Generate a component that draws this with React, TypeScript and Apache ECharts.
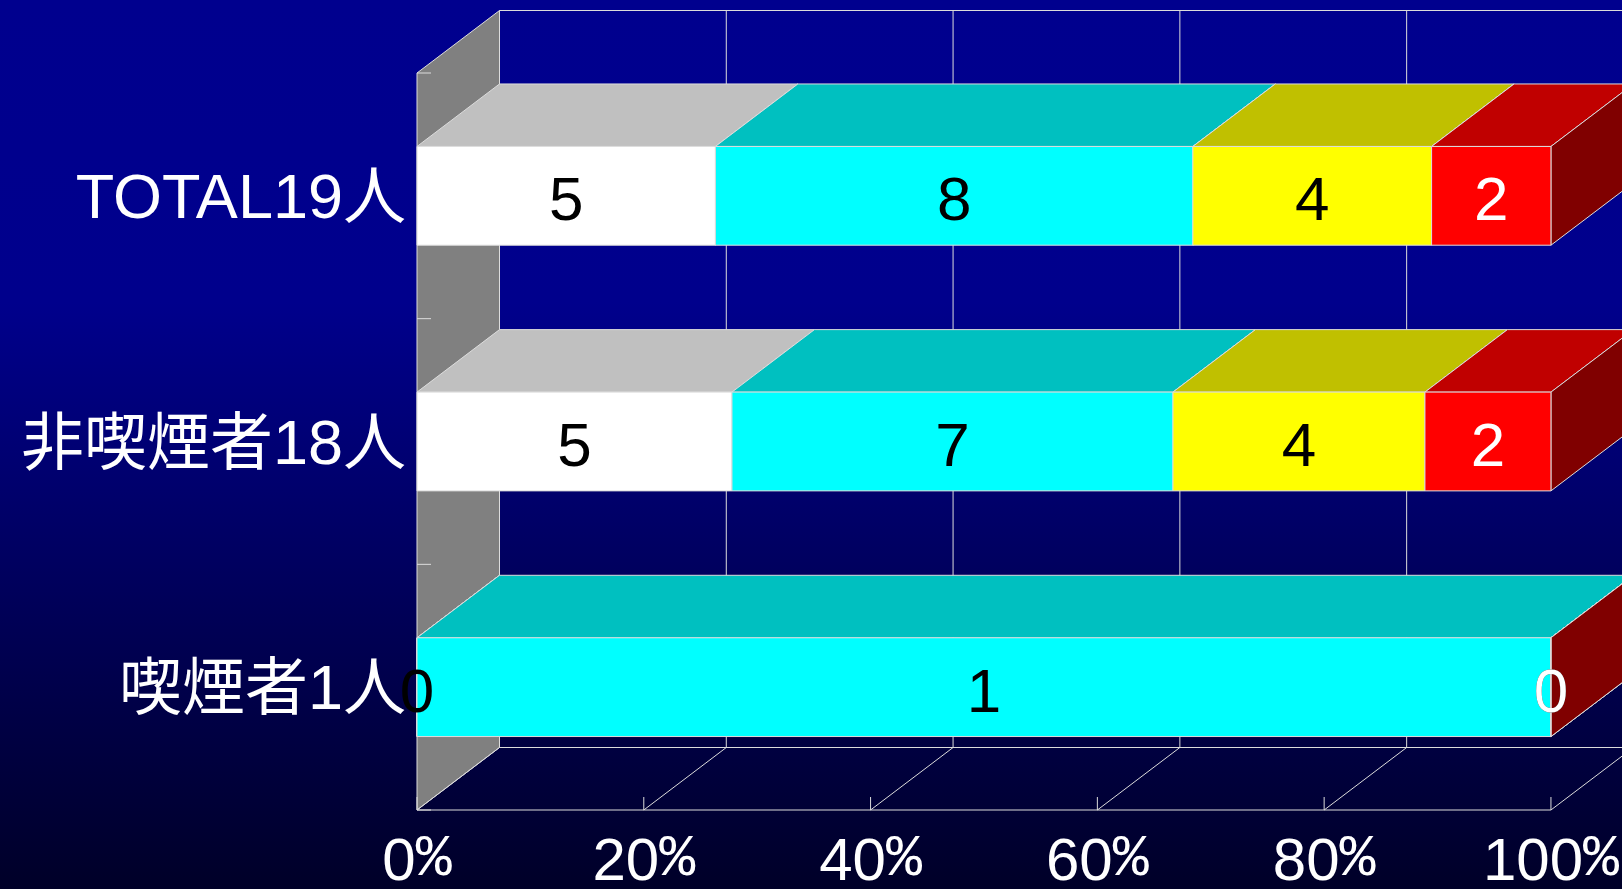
import React, { useEffect, useRef } from 'react';
import * as echarts from 'echarts';

// Rows, top to bottom
const categories = ['TOTAL19人', '非喫煙者18人', '喫煙者1人'];

// Head counts per answer group, one entry per row
const segmentNames = ['white', 'cyan', 'yellow', 'red'];
const whiteCounts = [5, 5, 0];
const cyanCounts = [8, 7, 1];
const yellowCounts = [4, 4, 0];
const redCounts = [2, 2, 0];

// Percentage axis ticks
const percentTicks = [0, 20, 40, 60, 80, 100];

const segmentCounts = [whiteCounts, cyanCounts, yellowCounts, redCounts];

// Face colours of each stacked block: front, top, end face, value label
const palette = [
  { front: '#ffffff', top: '#c0c0c0', side: '#808080', label: '#000000' },
  { front: '#00ffff', top: '#00c0c0', side: '#008080', label: '#000000' },
  { front: '#ffff00', top: '#c0c000', side: '#808000', label: '#000000' },
  { front: '#ff0000', top: '#c00000', side: '#800000', label: '#ffffff' },
];

// Oblique projection of the depth axis
const DEPTH_X = 82.5;
const DEPTH_Y = -62.5;
const BAR_RATIO = 0.402;
const EDGE = '#dcdcdc';
const WALL = '#808080';
const LATIN = '"Liberation Sans", Arial, sans-serif';

// 100% stacked ranges: [row, start %, end %, count]
function stackedData(seriesIndex: number) {
  return categories.map((_, row) => {
    const total = segmentCounts.reduce((s, arr) => s + arr[row], 0);
    let before = 0;
    for (let i = 0; i < seriesIndex; i++) before += segmentCounts[i][row];
    const v = segmentCounts[seriesIndex][row];
    return [row, (before / total) * 100, ((before + v) / total) * 100, v];
  });
}

function edgeLine(x1: number, y1: number, x2: number, y2: number) {
  return {
    type: 'line',
    shape: { x1, y1, x2, y2 },
    style: { stroke: EDGE, lineWidth: 1 },
    silent: true,
  };
}

// Side wall, back wall grid and floor of the 3D plot box
function renderFrame(params: any, api: any) {
  const cs = params.coordSys;
  const top = cs.y;
  const bottom = cs.y + cs.height;
  const xs = percentTicks.map((t) => api.coord([t, 0])[0]);
  const xL = xs[0];
  const xR = xs[xs.length - 1];
  const band = api.size([0, 1])[1];
  const children: any[] = [];

  children.push({
    type: 'polygon',
    shape: {
      points: [
        [xL, top],
        [xL + DEPTH_X, top + DEPTH_Y],
        [xL + DEPTH_X, bottom + DEPTH_Y],
        [xL, bottom],
      ],
    },
    style: { fill: WALL, stroke: EDGE, lineWidth: 1 },
  });
  children.push(edgeLine(xL + DEPTH_X, top + DEPTH_Y, xR + DEPTH_X, top + DEPTH_Y));
  children.push(edgeLine(xL + DEPTH_X, bottom + DEPTH_Y, xR + DEPTH_X, bottom + DEPTH_Y));
  xs.forEach((x) => {
    children.push(edgeLine(x + DEPTH_X, top + DEPTH_Y, x + DEPTH_X, bottom + DEPTH_Y));
    children.push(edgeLine(x, bottom, x + DEPTH_X, bottom + DEPTH_Y));
    children.push(edgeLine(x, bottom, x, bottom - 13));
  });
  children.push(edgeLine(xL, bottom, xR, bottom));
  for (let k = 0; k <= categories.length; k++) {
    const c = api.coord([0, Math.min(k, categories.length - 1)])[1];
    const y = k < categories.length ? c - band / 2 : c + band / 2;
    children.push(edgeLine(xL, y, xL + 14, y));
  }
  return { type: 'group', children };
}

// One stacked block: top face, end face, front face and its count
function renderSegment(colors: (typeof palette)[number], order: number) {
  return (params: any, api: any) => {
    const row = api.value(0);
    const a = api.coord([api.value(1), row]);
    const b = api.coord([api.value(2), row]);
    const band = api.size([0, 1])[1];
    const h = band * BAR_RATIO;
    const x0 = a[0];
    const x1 = b[0];
    const yT = a[1] - h / 2;
    const yB = a[1] + h / 2;
    const stroke = { stroke: EDGE, lineWidth: 1 };
    return {
      type: 'group',
      children: [
        {
          type: 'polygon',
          shape: {
            points: [
              [x0, yT],
              [x0 + DEPTH_X, yT + DEPTH_Y],
              [x1 + DEPTH_X, yT + DEPTH_Y],
              [x1, yT],
            ],
          },
          style: { fill: colors.top, ...stroke },
        },
        {
          type: 'polygon',
          shape: {
            points: [
              [x1, yT],
              [x1 + DEPTH_X, yT + DEPTH_Y],
              [x1 + DEPTH_X, yB + DEPTH_Y],
              [x1, yB],
            ],
          },
          style: { fill: colors.side, ...stroke },
        },
        {
          type: 'rect',
          shape: { x: x0, y: yT, width: x1 - x0, height: h },
          style: { fill: colors.front, ...stroke },
        },
        {
          type: 'text',
          x: (x0 + x1) / 2,
          y: a[1] + 3,
          z2: 100 + order,
          style: {
            text: String(api.value(3)),
            fill: colors.label,
            font: `62px ${LATIN}`,
            align: 'center',
            verticalAlign: 'middle',
          },
        },
      ],
    };
  };
}

function buildOption(): any {
  return {
    animation: false,
    backgroundColor: new echarts.graphic.LinearGradient(0, 0, 0, 1, [
      { offset: 0, color: '#00008e' },
      { offset: 0.34, color: '#00008c' },
      { offset: 1, color: '#000028' },
    ]),
    grid: { left: 417, right: 68.3, top: 73, bottom: 77 },
    xAxis: {
      type: 'value',
      min: 0,
      max: 100,
      interval: 20,
      axisLine: { show: false },
      axisTick: { show: false },
      splitLine: { show: false },
      axisLabel: {
        margin: 27,
        formatter: (v: number) => `{n|${v}}{p|%}`,
        rich: {
          n: { fontFamily: LATIN, fontSize: 60, lineHeight: 44, color: '#ffffff' },
          p: {
            fontFamily: '"Liberation Mono", "DejaVu Sans Mono", monospace',
            fontSize: 60,
            lineHeight: 44,
            color: '#ffffff',
          },
        },
      },
    },
    yAxis: {
      type: 'category',
      data: categories,
      inverse: true,
      axisLine: { show: false },
      axisTick: { show: false },
      splitLine: { show: false },
      axisLabel: {
        margin: 11,
        color: '#ffffff',
        fontSize: 63,
        fontFamily: '"Liberation Sans", "Noto Sans CJK JP", sans-serif',
        padding: [8, 0, 0, 0],
      },
    },
    series: [
      {
        type: 'custom',
        name: 'frame',
        renderItem: renderFrame,
        data: [[0, 0]],
        encode: { x: 0, y: 1 },
        silent: true,
        z: 1,
      },
      ...segmentNames.map((name, i) => ({
        type: 'custom',
        name,
        renderItem: renderSegment(palette[i], i),
        data: stackedData(i),
        encode: { x: [1, 2], y: 0 },
        silent: true,
        z: 3,
      })),
    ],
  };
}

export default function App() {
  const ref = useRef<HTMLDivElement>(null);
  useEffect(() => {
    if (!ref.current) return;
    const chart = echarts.init(ref.current, undefined, { renderer: 'svg' });
    chart.setOption(buildOption());
    return () => chart.dispose();
  }, []);
  return (
    <div
      ref={ref}
      style={{ position: 'fixed', left: 0, top: 0, width: 1622, height: 889 }}
    />
  );
}
